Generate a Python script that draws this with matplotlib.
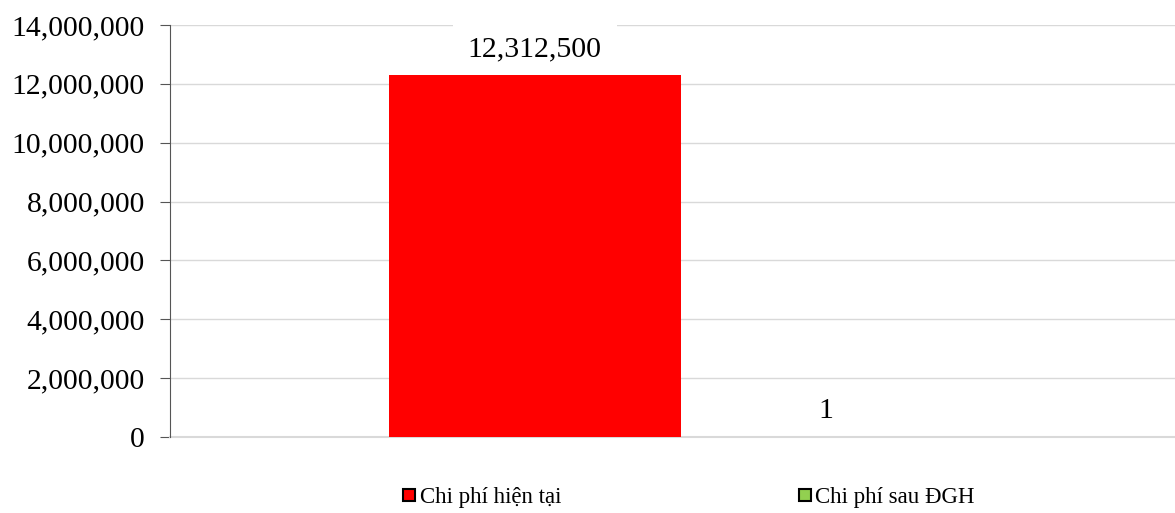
import matplotlib.pyplot as plt
from matplotlib.ticker import FuncFormatter

series = ["Chi phí hiện tại", "Chi phí sau ĐGH"]
values = [12312500, 1]
colors = ["#FF0000", "#92D050"]

plt.rcParams['font.family'] = ['Liberation Serif', 'DejaVu Serif']

fig = plt.figure(figsize=(11.75, 5.13), dpi=100)
ax = fig.add_axes([170 / 1175, 1 - 437 / 513, 1005 / 1175, 412 / 513])

w = 0.29
offsets = [-w / 2, w / 2]
for name, v, c, off in zip(series, values, colors, offsets):
    ax.bar(off, v, width=w, color=c, label=name, zorder=2)
    # label box sits under the bars but over the grid
    ax.text(off, v + 430000, f"{v:,}", ha='center', va='bottom', fontsize=21.5,
            zorder=1, bbox=dict(facecolor='white', edgecolor='none', pad=11))

ax.set_xlim(-0.508, 0.492)
ax.set_ylim(0, 14000000)
ax.set_yticks(range(0, 14000001, 2000000))
ax.yaxis.set_major_formatter(FuncFormatter(lambda v, p: f"{int(v):,}"))
ax.tick_params(axis='y', labelsize=21.3, length=7, color='#555555', pad=11)
ax.set_xticks([])
ax.grid(axis='y', color='#d9d9d9', linewidth=1, zorder=0)
ax.set_axisbelow(True)
ax.axhline(0, color='#d9d9d9', linewidth=1.5, zorder=1.5, clip_on=False)
for s in ['top', 'right', 'bottom']:
    ax.spines[s].set_visible(False)
ax.spines['left'].set_color('#555555')

handles = [plt.Line2D([], [], marker='s', linestyle='none', markersize=9,
                      markerfacecolor=c, markeredgecolor='black', markeredgewidth=1.5)
           for c in colors]
fig.legend(handles, series, loc='center', bbox_to_anchor=(687 / 1175, 1 - 497 / 513),
           ncol=2, frameon=False, fontsize=16.5, columnspacing=10.2,
           handletextpad=0.0, handlelength=0.9)

fig.savefig("out.png", dpi=100)
